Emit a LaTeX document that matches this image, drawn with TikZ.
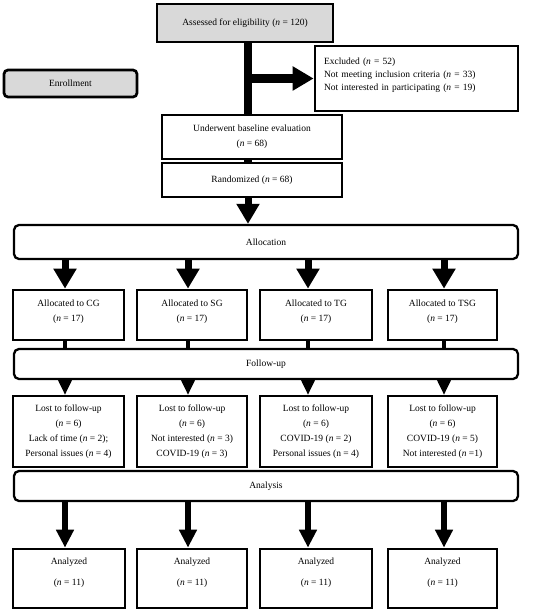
\documentclass[tikz,border=0pt]{standalone}
\usepackage{fontspec}
\setmainfont{Liberation Serif}
\usetikzlibrary{arrows.meta}
\begin{document}
\begin{tikzpicture}[x=1pt,y=1pt,
  box/.style={draw, line width=2.7pt, inner sep=0pt, align=center, font=\fontsize{9.5}{15}\selectfont},
  graybox/.style={box, fill=black!15},
  phase/.style={draw, line width=2.3pt, rounded corners=5pt, inner sep=0pt, align=center, font=\fontsize{9.5}{15}\selectfont},
  spineline/.style={line width=7.5pt},
  bigarrow/.style={line width=7pt, -{Triangle[width=22pt,length=20pt]}},
  exarrow/.style={line width=9pt, -{Triangle[width=23pt,length=21pt]}},
  thinlink/.style={line width=4.5pt},
  smallhead/.style={line width=2pt, -{Triangle[width=14pt,length=15pt]}},
  midarrow/.style={line width=6pt, -{Triangle[width=17pt,length=18pt]}},
  groupbox/.style={box, minimum height=50pt, text depth=9pt},
  lostbox/.style={box, minimum height=71pt},
  anabox/.style={box, minimum height=59pt, text depth=14pt},
]
\useasboundingbox (0,0) rectangle (550,-615);

% column coordinates
\coordinate (spine) at (248,0);
\coordinate (k1) at (65,0);
\coordinate (k2) at (188,0);
\coordinate (k3) at (308,0);
\coordinate (k4) at (444,0);

% top part
\node[graybox, minimum width=176pt, minimum height=38pt] (assess) at (245,-23) {Assessed for eligibility (\textit{n} = 120)};
\node[graybox, rounded corners=4pt, minimum width=133pt, minimum height=27pt] (enroll) at (70.5,-83.5) {Enrollment};
\node[box, minimum width=203pt, minimum height=65pt, text width=185pt, align=left, text depth=35pt,
      font=\fontsize{9.5}{13}\selectfont] (excl) at (416.5,-78.5)
  {Excluded (\textit{n} = 52)\\Not meeting inclusion criteria (\textit{n} = 33)\\Not interested in participating (\textit{n} = 19)};
\node[box, minimum width=180pt, minimum height=44pt] (under) at (252,-137) {Underwent baseline evaluation\\(\textit{n} = 68)};
\node[box, minimum width=180pt, minimum height=34pt] (rand) at (252,-180) {Randomized (\textit{n} = 68)};

% phase bars
\node[phase, minimum width=504pt, minimum height=34pt] (alloc) at (266,-242) {Allocation};
\node[phase, minimum width=504pt, minimum height=30pt] (follow) at (266,-364) {Follow-up};
\node[phase, minimum width=504pt, minimum height=30pt] (analysis) at (266,-486) {Analysis};

% allocated groups
\node[groupbox, minimum width=111pt] (a1) at (68.5,-315) {Allocated to CG\\(\textit{n} = 17)};
\node[groupbox, minimum width=110pt] (a2) at (192,-315) {Allocated to SG\\(\textit{n} = 17)};
\node[groupbox, minimum width=112pt] (a3) at (316,-315) {Allocated to TG\\(\textit{n} = 17)};
\node[groupbox, minimum width=109pt] (a4) at (442.5,-315) {Allocated to TSG\\(\textit{n} = 17)};

% lost to follow-up
\node[lostbox, minimum width=111pt] (l1) at (68.5,-431.5) {Lost to follow-up\\(\textit{n} = 6)\\Lack of time (\textit{n} = 2);\\Personal issues (\textit{n} = 4)};
\node[lostbox, minimum width=110pt] (l2) at (192,-431.5) {Lost to follow-up\\(\textit{n} = 6)\\Not interested (\textit{n} = 3)\\COVID-19 (\textit{n} = 3)};
\node[lostbox, minimum width=112pt] (l3) at (316,-431.5) {Lost to follow-up\\(\textit{n} = 6)\\COVID-19 (\textit{n} = 2)\\Personal issues (n = 4)};
\node[lostbox, minimum width=109pt] (l4) at (442.5,-431.5) {Lost to follow-up\\(\textit{n} = 6)\\COVID-19 (\textit{n} = 5)\\Not interested (\textit{n} =1)};

% analyzed
\node[anabox, minimum width=112pt] (z1) at (69,-578.5) {Analyzed\\[6pt](\textit{n} = 11)};
\node[anabox, minimum width=110pt] (z2) at (192,-578.5) {Analyzed\\[6pt](\textit{n} = 11)};
\node[anabox, minimum width=112pt] (z3) at (316,-578.5) {Analyzed\\[6pt](\textit{n} = 11)};
\node[anabox, minimum width=109pt] (z4) at (442.5,-578.5) {Analyzed\\[6pt](\textit{n} = 11)};

% connectors, top
\draw[spineline] (assess.south -| spine) -- (under.north -| spine);
\draw[exarrow] (excl.west -| spine) -- (excl.west);
\draw[spineline] (under.south -| spine) -- (rand.north -| spine);
\draw[bigarrow] (rand.south -| spine) -- (alloc.north -| spine);

% connectors per column
\foreach \i in {1,2,3,4} {
  \draw[bigarrow] (alloc.south -| k\i) -- (a\i.north -| k\i);
  \draw[thinlink] (a\i.south -| k\i) -- (follow.north -| k\i);
  \draw[smallhead] (follow.south -| k\i) -- (l\i.north -| k\i);
  \draw[midarrow] (analysis.south -| k\i) -- (z\i.north -| k\i);
}
\end{tikzpicture}
\end{document}
